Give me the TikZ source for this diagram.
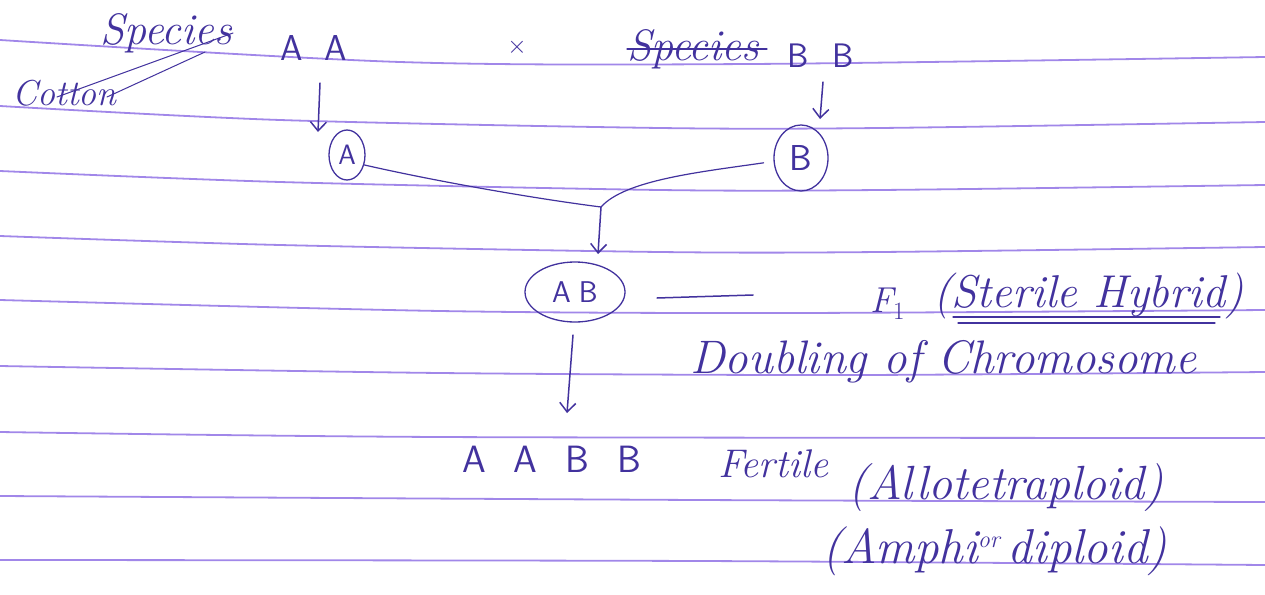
\documentclass[tikz,border=0pt]{standalone}
\usetikzlibrary{arrows.meta,shapes.geometric}
\definecolor{ink}{RGB}{66,50,158}
\definecolor{ruling}{RGB}{145,115,230}
\tikzset{
  rule/.style={ruling, line width=1.8pt, opacity=0.85},
  pen/.style={ink, line width=1.5pt, line cap=round},
  arr/.style={pen, -{Straight Barb[length=9pt,width=16pt,line width=1.5pt]}},
  word/.style={ink, inner sep=0pt, anchor=base west, font=\itshape},
  letters/.style={ink, inner sep=0pt, anchor=base west, font=\sffamily},
  ring/.style={ellipse, draw=ink, line width=1.3pt, inner sep=0pt, text=ink, font=\sffamily},
}
\newcommand{\fs}[1]{\fontsize{#1}{#1}\selectfont}
\begin{document}
\begin{tikzpicture}[x=1pt,y=-1pt]
\fill[white] (0,0) rectangle (1265,594);
\useasboundingbox (0,0) rectangle (1265,594);

% ruled paper
\draw[rule] plot[smooth] coordinates {(0,40) (400,62) (750,64) (1265,57)};
\draw[rule] plot[smooth] coordinates {(0,106) (280,120) (660,128) (880,128) (1265,122)};
\draw[rule] plot[smooth] coordinates {(0,171) (280,182) (660,190) (880,190) (1265,185)};
\draw[rule] plot[smooth] coordinates {(0,236) (280,245) (660,252) (880,252) (1265,247)};
\draw[rule] plot[smooth] coordinates {(0,300) (440,311) (790,313) (1265,310)};
\draw[rule] plot[smooth] coordinates {(0,366) (440,373) (850,375) (1265,372)};
\draw[rule] plot[smooth] coordinates {(0,432) (440,437) (1265,438)};
\draw[rule] plot[smooth] coordinates {(0,496) (700,500) (1265,502)};
\draw[rule] plot[smooth] coordinates {(0,560) (700,561) (1265,565)};

% parents
\node[word, font=\itshape\fs{44}] (sp1) at (100,45) {Species};
\node[word, font=\itshape\fs{36}] (cot) at (12,105) {Cotton};
\draw[pen, line width=1pt] (57,97) -- (233,33);
\draw[pen, line width=1pt] (107,97) -- (205,52);
\node[letters, font=\sffamily\fs{36}] (aa) at (280,60) {A\hspace{22pt}A};
\node[ink, font=\fs{36}] (cross) at (517,47) {$\times$};
\node[word, font=\itshape\fs{44}] (sp2) at (627,60) {Species};
\draw[pen, line width=1.1pt] (627,49) -- (767,49);
\node[letters, font=\sffamily\fs{34}] (bb) at (787,67) {B\hspace{24pt}B};

% gametes
\node[ring, minimum width=36pt, minimum height=50pt, font=\sffamily\fs{28}] (ga) at (347,155) {A};
\node[ring, minimum width=54pt, minimum height=66pt, font=\sffamily\fs{36}] (gb) at (801,158) {B};
\draw[arr] (320,83) -- (318,132);
\draw[arr] (823,82) -- (820,119);

% fusion
\coordinate (join) at (601,207);
\coordinate (joinend) at (598,254);
\draw[pen, line width=1.2pt] (ga.-30) .. controls (430,180) and (530,198) .. (join);
\draw[pen, line width=1.2pt] ([xshift=-10pt]gb.190) .. controls (700,172) and (625,180) .. (join);
\draw[arr] (join) -- (joinend);

% F1
\node[ring, minimum width=100pt, minimum height=60pt, font=\sffamily\fs{30}] (ab) at (575,292) {A\hspace{8pt}B};
\draw[pen] (657,298) -- (753,295);
\node[word, font=\itshape\fs{36}] (f1) at (870,312) {F$_{1}$};
\node[word, font=\itshape\fs{46}] (sh) at (933,307) {(Sterile Hybrid)};
\draw[pen, line width=1.1pt] (953,317) -- (1220,317);
\draw[pen, line width=1.1pt] (958,323) -- (1215,323);

% doubling
\node[word, font=\itshape\fs{47}] (dbl) at (690,373) {Doubling of Chromosome};
\coordinate (dstart) at (573,335);
\draw[arr] (dstart) -- (567,413);

% amphidiploid
\node[letters, font=\sffamily\fs{38}] (aabb) at (462,472) {A\hspace{28pt}A\hspace{28pt}B\hspace{28pt}B};
\node[word, font=\itshape\fs{40}] (fert) at (718,477) {Fertile};
\node[word, font=\itshape\fs{48}] (allo) at (848,499) {(Allotetraploid)};
\node[word, font=\itshape\fs{49}] (amph) at (822,563) {(Amphi\raisebox{16pt}{\fs{24}or}\,diploid)};
\end{tikzpicture}
\end{document}
